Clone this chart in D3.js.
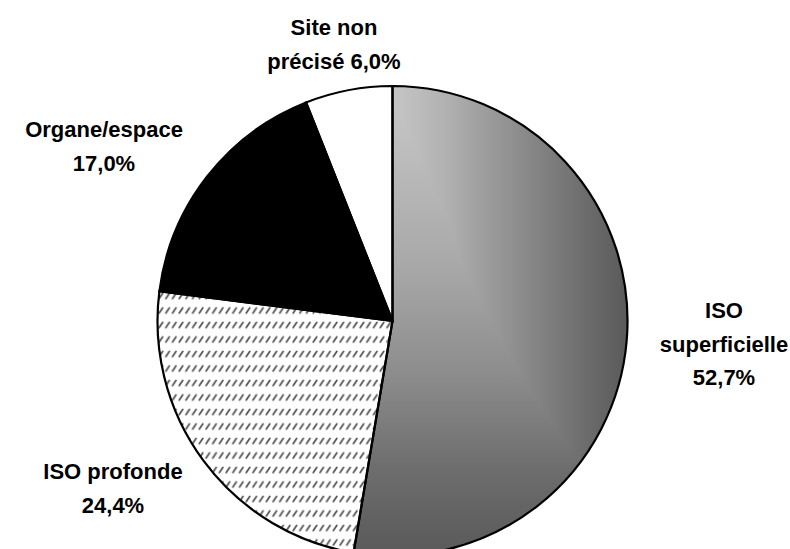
<!DOCTYPE html>
<html><head><meta charset="utf-8">
<script src="https://cdn.jsdelivr.net/npm/d3@7"></script>
<style>html,body{margin:0;padding:0;background:#fff;}svg{display:block;}</style>
</head><body>
<script>
const categories = ["ISO superficielle", "ISO profonde", "Organe/espace", "Site non précisé"];
const values = [52.7, 24.4, 17.0, 6.0];
const valueLabels = ["52,7%", "24,4%", "17,0%", "6,0%"];
const labelLines = [["ISO", "superficielle", "52,7%"], ["ISO profonde", "24,4%"], ["Organe/espace", "17,0%"], ["Site non", "précisé 6,0%"]];

const W = 790, H = 549;
const cx = 392.5, cy = 321, R = 235;
const svg = d3.select("body").append("svg").attr("width", W).attr("height", H);
const defs = svg.append("defs");

// horizontal gradient
const gh = defs.append("linearGradient").attr("id", "gh").attr("gradientUnits", "userSpaceOnUse")
  .attr("x1", 0).attr("y1", 0).attr("x2", R).attr("y2", 0);
[[0, "#c6c6c6"], [0.25, "#afafaf"], [0.34, "#a3a3a3"], [0.86, "#686868"], [1, "#5a5a5a"]]
  .forEach(([o, c]) => gh.append("stop").attr("offset", o).attr("stop-color", c));
// vertical gradient
const gv = defs.append("linearGradient").attr("id", "gv").attr("gradientUnits", "userSpaceOnUse")
  .attr("x1", 0).attr("y1", -R).attr("x2", 0).attr("y2", R);
[[0, "#c8c8c8"], [0.03, "#c6c6c6"], [0.385, "#a8a8a8"], [0.6, "#8e8e8e"], [0.81, "#6e6e6e"], [0.95, "#5e5e5e"], [1, "#5b5b5b"]]
  .forEach(([o, c]) => gv.append("stop").attr("offset", o).attr("stop-color", c));

// hatch pattern
const pat = defs.append("pattern").attr("id", "hatch").attr("patternUnits", "userSpaceOnUse")
  .attr("width", 6.7).attr("height", 14.5);
pat.append("rect").attr("width", 6.7).attr("height", 14.5).attr("fill", "#fff");
pat.append("line").attr("x1", 1.2).attr("y1", 6.5).attr("x2", 4.6).attr("y2", 1.5)
  .attr("stroke", "#555").attr("stroke-width", 1.8).attr("stroke-linecap", "round");

const pie = d3.pie().sort(null).value(d => d)(values);
const arc = d3.arc().innerRadius(0).outerRadius(R);
const g = svg.append("g").attr("transform", `translate(${cx},${cy})`);

const fills = ["url(#gh)", "url(#hatch)", "#000", "#fff"];
const iso = g.append("g").style("isolation", "isolate");
pie.forEach((d, i) => {
  if (i === 0) {
    iso.append("path").attr("d", arc(d)).attr("fill", "url(#gh)");
    iso.append("path").attr("d", arc(d)).attr("fill", "url(#gv)").style("mix-blend-mode", "darken");
  } else {
    g.append("path").attr("d", arc(d)).attr("fill", fills[i]);
  }
});
pie.forEach(d => {
  g.append("path").attr("d", arc(d)).attr("fill", "none").attr("stroke", "#000")
    .attr("stroke-width", 2.2).attr("stroke-linejoin", "miter");
});

// labels
const labelPos = [
  {x: 724, y: 318},
  {x: 113, y: 479},
  {x: 104, y: 137},
  {x: 334, y: 35}
];
const lineH = 33.5;
labelLines.forEach((lines, i) => {
  const t = svg.append("text").attr("text-anchor", "middle")
    .attr("font-family", "Arial, 'Liberation Sans', sans-serif").attr("font-weight", "bold")
    .attr("font-size", 22).attr("fill", "#000");
  lines.forEach((s, j) => {
    t.append("tspan").attr("x", labelPos[i].x).attr("y", labelPos[i].y + j * lineH).text(s);
  });
});
</script>
</body></html>
